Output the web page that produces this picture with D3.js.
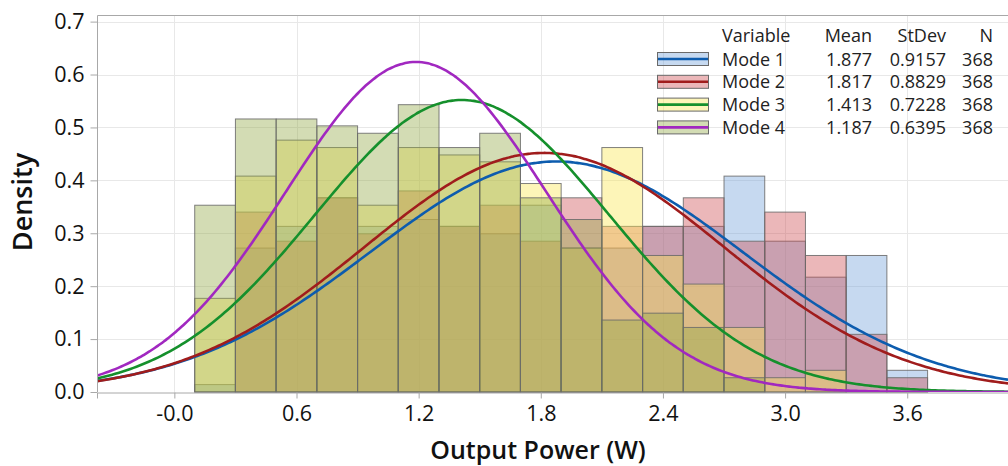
<!DOCTYPE html>
<html>
<head>
<meta charset="utf-8">
<script src="https://cdn.jsdelivr.net/npm/d3@7/dist/d3.min.js"></script>
<style>
	body { margin: 0; background: #fff; }
	text { font-family: "Open Sans", "Noto Sans", sans-serif; }
</style>
</head>
<body>
<div id="area"></div>
<script>

/**
* CHART DATA
* ==========
* Bin centres (width 0.2) and the density of each mode in every bin,
* read off the histogram. Legend stats are printed as-is.
*/
var binCenters = [0.2, 0.4, 0.6, 0.8, 1.0, 1.2, 1.4, 1.6, 1.8, 2.0, 2.2, 2.4, 2.6, 2.8, 3.0, 3.2, 3.4, 3.6];
var binWidth = 0.2;

var mode1 = [0.014, 0.272, 0.313, 0.367, 0.313, 0.326, 0.313, 0.299, 0.353, 0.272, 0.272, 0.313, 0.313, 0.408, 0.285, 0.217, 0.258, 0.041];
var mode2 = [0.000, 0.340, 0.285, 0.367, 0.299, 0.380, 0.313, 0.353, 0.285, 0.367, 0.313, 0.313, 0.367, 0.285, 0.340, 0.258, 0.109, 0.027];
var mode3 = [0.177, 0.408, 0.476, 0.462, 0.353, 0.462, 0.448, 0.435, 0.394, 0.272, 0.462, 0.258, 0.204, 0.122, 0.027, 0.041, 0.000, 0.000];
var mode4 = [0.353, 0.516, 0.516, 0.503, 0.489, 0.543, 0.462, 0.489, 0.367, 0.326, 0.136, 0.149, 0.122, 0.027, 0.000, 0.000, 0.000, 0.000];

var seriesNames = ['Mode 1', 'Mode 2', 'Mode 3', 'Mode 4'];
var seriesMeans = [1.877, 1.817, 1.413, 1.187];
var seriesStDevs = [0.9157, 0.8829, 0.7228, 0.6395];
var seriesN = [368, 368, 368, 368];

var xTicks = [0, 0.6, 1.2, 1.8, 2.4, 3.0, 3.6];
var xTickLabels = ['-0.0', '0.6', '1.2', '1.8', '2.4', '3.0', '3.6'];
var yTicks = [0, 0.1, 0.2, 0.3, 0.4, 0.5, 0.6, 0.7];
var yTickLabels = ['0.0', '0.1', '0.2', '0.3', '0.4', '0.5', '0.6', '0.7'];

var fillColors = ['#70a0d9', '#cd4b50', '#fae64e', '#91a844'];
var lineColors = ['#0d5cae', '#a01c1c', '#15902c', '#a128c0'];
var fillOpacity = 0.4;

var width = 1008;
var height = 466;
var plot = { left: 97, right: 1008, top: 15, bottom: 392 };


//Setting up the SVG canvas area
var svg = d3.select('#area').append('svg')
	.attr('width', width)
	.attr('height', height);

var x = d3.scaleLinear().domain([-0.38, 4.095]).range([plot.left, plot.right]);
var y = d3.scaleLinear().domain([0, 0.7125]).range([plot.bottom, plot.top]);

svg.append('clipPath').attr('id', 'plot-clip')
	.append('rect')
	.attr('x', plot.left).attr('y', plot.top)
	.attr('width', plot.right - plot.left).attr('height', plot.bottom - plot.top);


/**
* GRIDLINES
* =========
*/
var grid = svg.append('g').attr('stroke', '#e8e8e8').attr('stroke-width', 1);

grid.selectAll('.hgrid').data(yTicks.slice(1)).enter().append('line')
	.attr('x1', plot.left).attr('x2', plot.right)
	.attr('y1', function(d){ return Math.round(y(d)) + 0.5; })
	.attr('y2', function(d){ return Math.round(y(d)) + 0.5; });

grid.selectAll('.vgrid').data(xTicks).enter().append('line')
	.attr('y1', plot.top).attr('y2', plot.bottom)
	.attr('x1', function(d){ return Math.round(x(d)) + 0.5; })
	.attr('x2', function(d){ return Math.round(x(d)) + 0.5; });


/**
* HISTOGRAM BARS
* ==============
* Drawn mode by mode, semi transparent so overlaps blend.
*/
var allModes = [mode1, mode2, mode3, mode4];

allModes.forEach(function(values, i){

	var g = svg.append('g').attr('class', 'bars-' + (i + 1));

	g.selectAll('rect')
		.data(binCenters.map(function(c, j){ return { c: c, v: values[j] }; })
			.filter(function(d){ return d.v > 0; }))
		.enter().append('rect')
		.attr('x', function(d){ return x(d.c - binWidth / 2); })
		.attr('width', function(d){ return x(d.c + binWidth / 2) - x(d.c - binWidth / 2); })
		.attr('y', function(d){ return y(d.v); })
		.attr('height', function(d){ return y(0) - y(d.v); })
		.attr('fill', fillColors[i])
		.attr('fill-opacity', fillOpacity)
		.attr('stroke', '#6a6a6a')
		.attr('stroke-opacity', 0.85)
		.attr('stroke-width', 1);
});


/**
* FITTED NORMAL CURVES
* ====================
* One curve per mode from the legend's mean and stdev.
*/
var curveXs = d3.range(0, 301).map(function(k){
	return x.domain()[0] + k * (x.domain()[1] - x.domain()[0]) / 300;
});

var normalPdf = function(v, mu, sd){
	return Math.exp(-0.5 * Math.pow((v - mu) / sd, 2)) / (sd * Math.sqrt(2 * Math.PI));
};

var curves = svg.append('g').attr('clip-path', 'url(#plot-clip)');

seriesNames.forEach(function(name, i){

	var line = d3.line()
		.x(function(d){ return x(d); })
		.y(function(d){ return y(normalPdf(d, seriesMeans[i], seriesStDevs[i])); })
		.curve(d3.curveBasis);

	curves.append('path')
		.datum(curveXs)
		.attr('d', line)
		.attr('fill', 'none')
		.attr('stroke', lineColors[i])
		.attr('stroke-width', 2.6);
});


/**
* FRAME AND AXES
* ==============
*/
svg.append('path')
	.attr('d', 'M' + (plot.left + 0.5) + ',' + plot.bottom + 'V' + (plot.top + 0.5) + 'H' + plot.right)
	.attr('fill', 'none')
	.attr('stroke', '#a8a8a8');

var yAxis = svg.append('g')
	.attr('transform', 'translate(' + (plot.left + 0.5) + ',0)')
	.call(d3.axisLeft(y)
		.tickValues(yTicks)
		.tickFormat(function(d, i){ return yTickLabels[i]; })
		.tickSize(7)
		.tickPadding(6));

var xAxis = svg.append('g')
	.attr('transform', 'translate(0,' + (plot.bottom + 0.5) + ')')
	.call(d3.axisBottom(x)
		.tickValues(xTicks)
		.tickFormat(function(d, i){ return xTickLabels[i]; })
		.tickSize(6)
		.tickPadding(7));

[xAxis, yAxis].forEach(function(ax){
	ax.select('.domain').attr('stroke', '#a8a8a8');
	ax.selectAll('.tick line').attr('stroke', '#a8a8a8');
	ax.selectAll('.tick text')
		.attr('fill', '#111')
		.style('font-size', '21.5px');
});
yAxis.select('.domain').remove();

svg.append('text')
	.attr('x', 538)
	.attr('y', 459)
	.attr('text-anchor', 'middle')
	.attr('fill', '#111')
	.style('font-size', '25px')
	.style('font-weight', 600)
	.text('Output Power (W)');

svg.append('text')
	.attr('transform', 'translate(32,202) rotate(-90)')
	.attr('text-anchor', 'middle')
	.attr('fill', '#111')
	.style('font-size', '27px')
	.style('font-weight', 600)
	.text('Density');


/**
* LEGEND
* ======
*/
var legend = svg.append('g').attr('class', 'legend')
	.style('font-size', '18px')
	.attr('fill', '#222');

var rowY = function(i){ return 59 + i * 22.8; };

legend.append('text').attr('x', 722).attr('y', 41.5).text('Variable');
legend.append('text').attr('x', 872).attr('y', 41.5).attr('text-anchor', 'end').text('Mean');
legend.append('text').attr('x', 946).attr('y', 41.5).attr('text-anchor', 'end').text('StDev');
legend.append('text').attr('x', 993).attr('y', 41.5).attr('text-anchor', 'end').text('N');

seriesNames.forEach(function(name, i){

	var cy = rowY(i);

	legend.append('rect')
		.attr('x', 657.5).attr('y', cy - 6.5)
		.attr('width', 51).attr('height', 13)
		.attr('fill', fillColors[i])
		.attr('fill-opacity', fillOpacity)
		.attr('stroke', '#6a6a6a');

	legend.append('line')
		.attr('x1', 658).attr('x2', 708)
		.attr('y1', cy).attr('y2', cy)
		.attr('stroke', lineColors[i])
		.attr('stroke-width', 2.6);

	legend.append('text').attr('x', 722).attr('y', cy + 6.5).text(name);
	legend.append('text').attr('x', 872).attr('y', cy + 6.5).attr('text-anchor', 'end').text(seriesMeans[i].toFixed(3));
	legend.append('text').attr('x', 946).attr('y', cy + 6.5).attr('text-anchor', 'end').text(seriesStDevs[i].toFixed(4));
	legend.append('text').attr('x', 993).attr('y', cy + 6.5).attr('text-anchor', 'end').text(seriesN[i]);
});

</script>
</body>
</html>
